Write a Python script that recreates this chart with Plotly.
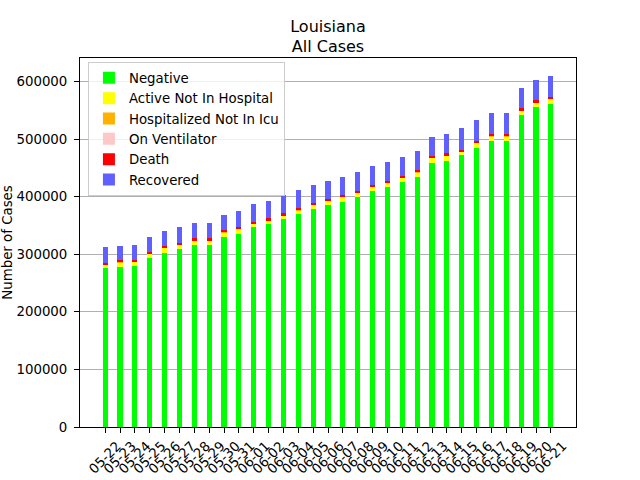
import plotly.graph_objects as go

# Louisiana daily stacked totals, 05-22 .. 06-21
dates = ['05-22', '05-23', '05-24', '05-25', '05-26', '05-27', '05-28', '05-29',
         '05-30', '05-31', '06-01', '06-02', '06-03', '06-04', '06-05', '06-06',
         '06-07', '06-08', '06-09', '06-10', '06-11', '06-12', '06-13', '06-14',
         '06-15', '06-16', '06-17', '06-18', '06-19', '06-20', '06-21']

negative = [275600, 278600, 280300, 294100, 302200, 309700, 316600, 316600,
            330400, 335600, 347700, 352800, 361500, 370100, 378800, 385500,
            390800, 399000, 409800, 416700, 425400, 434000, 458700, 461700,
            472000, 484100, 496200, 496200, 541100, 554900, 560000]

active_not_in_hospital = [6400, 7500, 7000, 7000, 8600, 7000, 7200, 7200,
                          7500, 8600, 5200, 5800, 5800, 6300, 6900, 7000,
                          8600, 7500, 7500, 6300, 7500, 8600, 8600, 9800,
                          5800, 9200, 8600, 8600, 8600, 8600, 9800]

hospitalized_not_in_icu = [790, 780, 770, 760, 740, 730, 720, 720,
                           700, 690, 680, 670, 660, 650, 640, 630,
                           620, 610, 600, 590, 580, 580, 570, 570,
                           560, 560, 550, 550, 560, 570, 580]

on_ventilator = [100, 98, 97, 95, 93, 92, 90, 90,
                 88, 86, 84, 82, 80, 78, 77, 76,
                 75, 74, 73, 72, 71, 70, 70, 69,
                 68, 68, 67, 67, 68, 69, 70]

death = [2608, 2617, 2635, 2658, 2690, 2706, 2727, 2727,
         2749, 2767, 2785, 2801, 2819, 2835, 2849, 2863,
         2876, 2885, 2902, 2919, 2930, 2940, 2959, 2970,
         2976, 2991, 3009, 3009, 3032, 3044, 3063]

recovered = [26400, 25200, 25800, 25750, 26400, 27400, 27200, 27200,
             26900, 27450, 30850, 30350, 31850, 31550, 31050, 30950,
             30950, 32550, 32050, 33350, 32050, 32650, 32150, 33150,
             37150, 35550, 36100, 36100, 36100, 36100, 36700]

series = [
    ('Negative', negative, '#00FF00'),
    ('Active Not In Hospital', active_not_in_hospital, '#FFFF00'),
    ('Hospitalized Not In Icu', hospitalized_not_in_icu, '#FFB000'),
    ('On Ventilator', on_ventilator, '#FFC8C8'),
    ('Death', death, '#FF0000'),
    ('Recovered', recovered, '#6060FF'),
]

font = 'DejaVu Sans'
fs = 13.33

fig = go.Figure()
for name, vals, col in series:
    fig.add_trace(go.Bar(
        x=dates,
        y=vals,
        name=name,
        legendgroup=name,
        marker=dict(color=col, line=dict(width=0)),
        width=0.35,
    ))

fig.update_layout(
    barmode='stack',
    width=640,
    height=480,
    margin=dict(l=80, r=64, t=58, b=53, autoexpand=False),
    paper_bgcolor='white',
    plot_bgcolor='white',
    font=dict(family=font, size=fs, color='black'),
    title=dict(
        text='Louisiana<br>All Cases',
        x=328 / 640,
        xanchor='center',
        y=1 - 31.5 / 480,
        yanchor='middle',
        font=dict(family=font, size=16, color='black'),
    ),
    legend=dict(
        x=0.016,
        y=0.99,
        xanchor='left',
        yanchor='top',
        bgcolor='rgba(255,255,255,0.8)',
        bordercolor='#cccccc',
        borderwidth=1,
        tracegroupgap=1,
        font=dict(family=font, size=fs, color='black'),
        traceorder='normal',
    ),
    showlegend=True,
)

fig.update_xaxes(
    type='category',
    range=[-1.6925, 30 + 1.6925],
    tickmode='array',
    tickvals=dates,
    ticktext=dates,
    automargin=False,
    showline=True,
    mirror=True,
    linecolor='black',
    linewidth=1,
    ticks='outside',
    ticklen=5,
    tickcolor='black',
    tickangle=-45,
    ticklabelshift=12,
    showgrid=False,
    tickfont=dict(family=font, size=fs, color='black'),
)

fig.update_yaxes(
    range=[0, 640710],
    tickvals=[0, 100000, 200000, 300000, 400000, 500000, 600000],
    tickformat='d',
    automargin=False,
    showline=True,
    mirror=True,
    linecolor='black',
    linewidth=1,
    ticks='outside',
    ticklen=5,
    tickcolor='black',
    ticklabelstandoff=4,
    showgrid=True,
    gridcolor='#b0b0b0',
    gridwidth=1,
    zeroline=False,
    title=dict(text='Number of Cases', standoff=0,
               font=dict(family=font, size=fs, color='black')),
    tickfont=dict(family=font, size=fs, color='black'),
)

# drop the default 8px page margin so the figure sits at the window origin
fig.write_html('out.html', config={'displayModeBar': False},
               post_script="document.body.style.margin='0';")
